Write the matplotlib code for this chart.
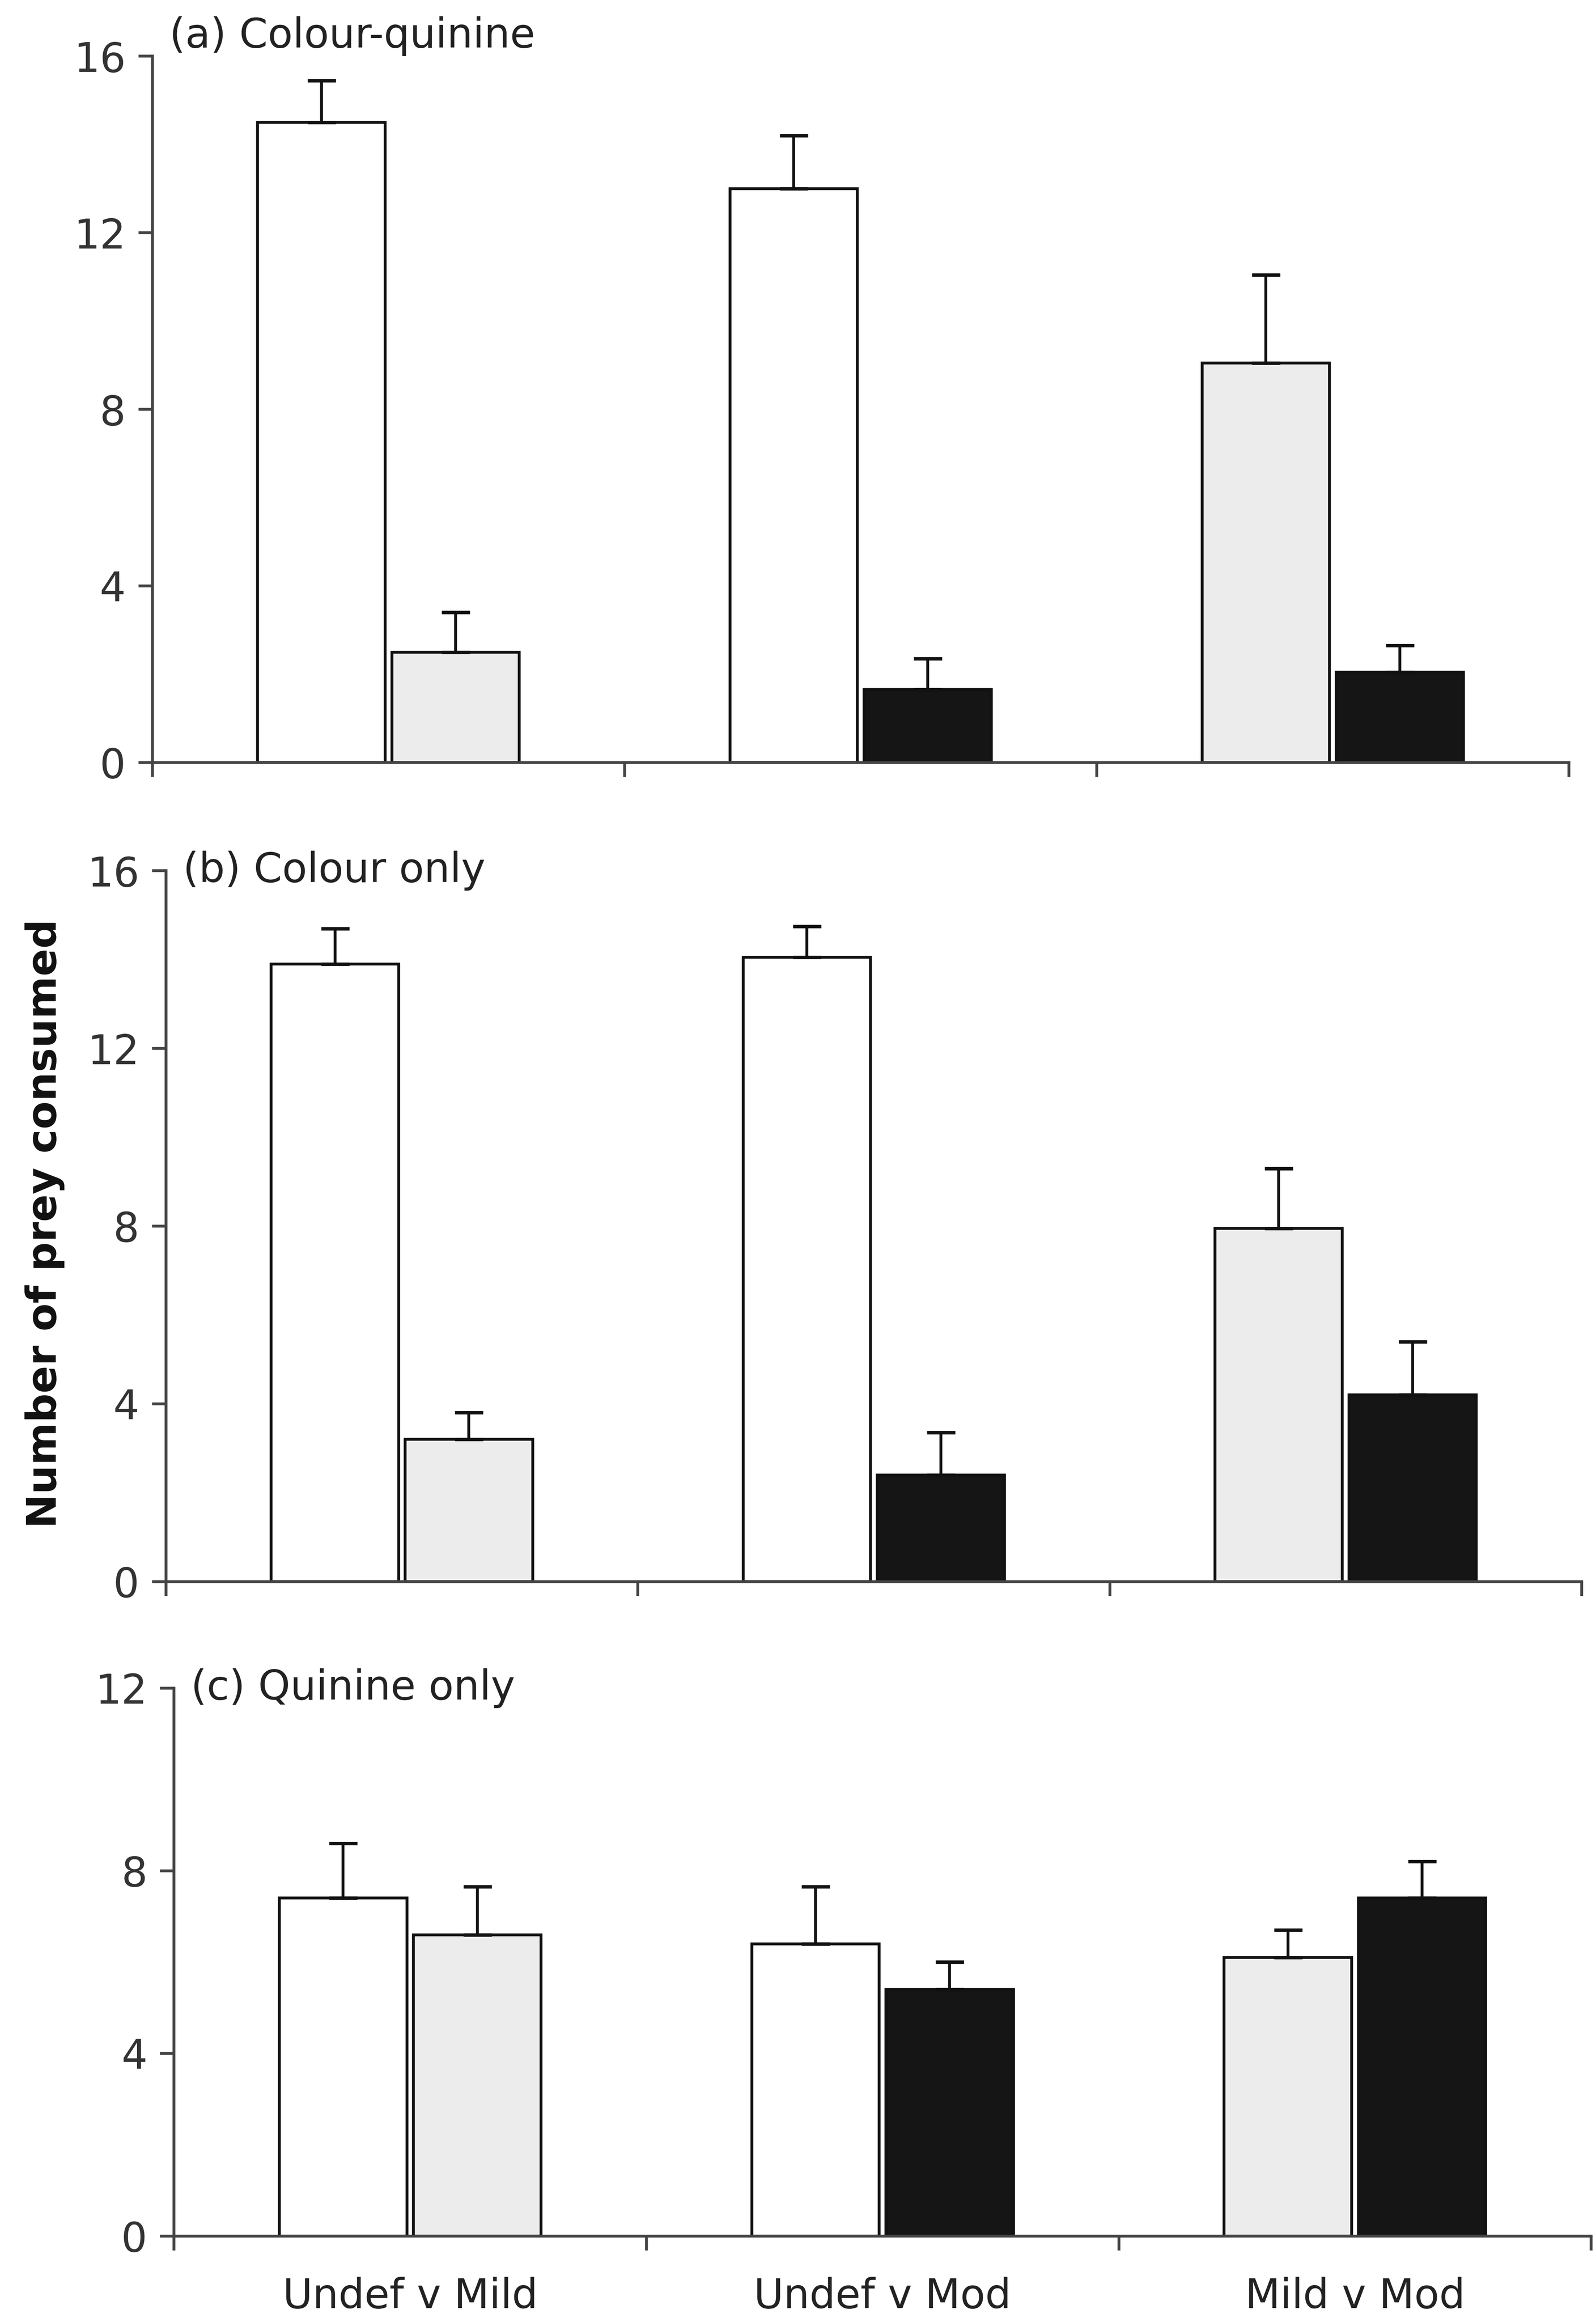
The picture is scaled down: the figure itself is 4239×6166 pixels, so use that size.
import matplotlib
matplotlib.use("Agg")
import matplotlib.pyplot as plt
import numpy as np

plt.rcParams['font.family'] = ['DejaVu Sans']

categories = ["Undef v Mild", "Undef v Mod", "Mild v Mod"]
panel_titles = ["(a) Colour-quinine", "(b) Colour only", "(c) Quinine only"]

# Left bar and right bar of each comparison: mean and upper SE
a_left_mean = [14.5, 13.0, 9.05]
a_left_err = [0.95, 1.2, 2.0]
a_right_mean = [2.5, 1.65, 2.05]
a_right_err = [0.9, 0.7, 0.6]

b_left_mean = [13.9, 14.05, 7.95]
b_left_err = [0.8, 0.7, 1.35]
b_right_mean = [3.2, 2.4, 4.2]
b_right_err = [0.6, 0.95, 1.2]

c_left_mean = [7.4, 6.4, 6.1]
c_left_err = [1.2, 1.25, 0.6]
c_right_mean = [6.6, 5.4, 7.4]
c_right_err = [1.05, 0.6, 0.8]

# prey types: undefended=white, mild=light grey, moderate=black
left_types = ["undef", "undef", "mild"]
right_types = ["mild", "mod", "mod"]
type_colors = {"undef": "#ffffff", "mild": "#ececec", "mod": "#151515"}

y_max = [16, 16, 12]
y_ticks = [[0, 4, 8, 12, 16], [0, 4, 8, 12, 16], [0, 4, 8, 12]]

panels = [
    (a_left_mean, a_left_err, a_right_mean, a_right_err),
    (b_left_mean, b_left_err, b_right_mean, b_right_err),
    (c_left_mean, c_left_err, c_right_mean, c_right_err),
]

positions = [
    [0.0955, 0.6716, 0.8875, 0.3042],
    [0.1040, 0.3189, 0.8870, 0.3061],
    [0.1090, 0.0370, 0.8880, 0.2360],
]

fig = plt.figure(figsize=(4239 / 300, 6166 / 300), dpi=300)

width = 0.27
off = 0.142
x = np.arange(3) + 0.5
axcol = "#444444"
fs = 26

for i, (lm, le, rm, re) in enumerate(panels):
    ax = fig.add_axes(positions[i])
    for j in range(3):
        for xm, m, e, t in [(x[j] - off, lm[j], le[j], left_types[j]),
                            (x[j] + off, rm[j], re[j], right_types[j])]:
            ax.bar(xm, m, width=width, color=type_colors[t], edgecolor="#111111",
                   linewidth=1.8, zorder=2)
            ax.errorbar(xm, m, yerr=[[0], [e]], fmt="none", ecolor="#111111",
                        elinewidth=1.8, capsize=9, capthick=2.2, zorder=3)
    ax.set_xlim(0, 3)
    ax.set_ylim(0, y_max[i])
    ax.set_yticks(y_ticks[i])
    ax.set_yticklabels([str(t) for t in y_ticks[i]], fontsize=fs, color="#333333")
    ax.set_xticks([0, 1, 2, 3])
    ax.set_xticklabels([])
    ax.tick_params(axis="y", direction="out", length=9, width=1.8, color=axcol, pad=8)
    ax.tick_params(axis="x", direction="out", length=9, width=1.8, color=axcol)
    for s in ["top", "right"]:
        ax.spines[s].set_visible(False)
    for s in ["left", "bottom"]:
        ax.spines[s].set_color(axcol)
        ax.spines[s].set_linewidth(1.8)
    ax.text(0.012, 1.0, panel_titles[i], transform=ax.transAxes, fontsize=fs,
            ha="left", va="bottom" if i == 0 else "center", color="#222222")
    if i == 2:
        ax.set_xticks(x, minor=True)
        ax.set_xticklabels(categories, minor=True, fontsize=fs, color="#222222")
        ax.tick_params(axis="x", which="minor", length=0, pad=26)

fig.text(0.028, 0.473, "Number of prey consumed", rotation=90, fontsize=26,
         fontweight="bold", ha="center", va="center", color="#111111")

fig.savefig("out.png", dpi=300, facecolor="white")
